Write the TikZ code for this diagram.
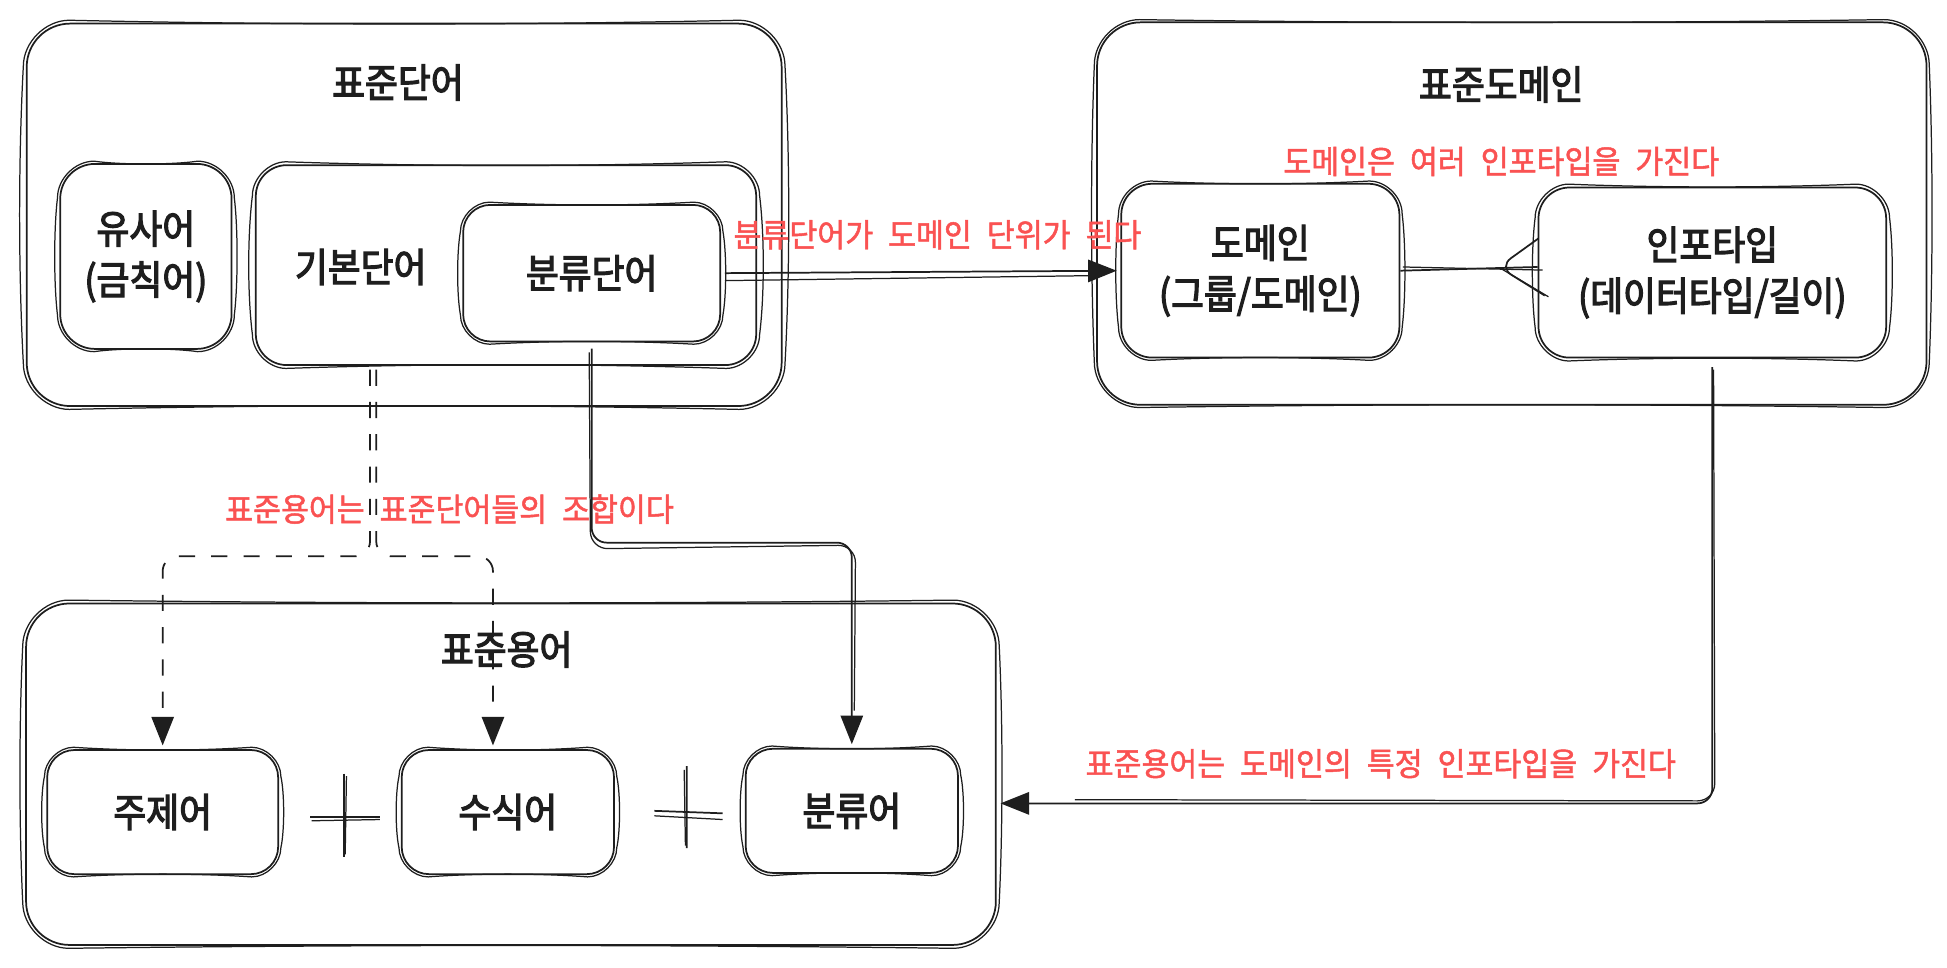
\documentclass[tikz,border=0pt]{standalone}
\usepackage{fontspec}
\setmainfont{Noto Sans CJK KR}
\newfontfamily\inkfont[FakeBold=3,FakeStretch=0.9]{Noto Sans CJK KR}
\newfontfamily\redfont[WordSpace=2.2,FakeBold=1.5,FakeStretch=0.94]{Noto Sans CJK KR}
\usetikzlibrary{arrows.meta,calc}
\definecolor{ink}{HTML}{1E1E1E}
\definecolor{notecol}{HTML}{FA5252}
\newcommand\bigtxt{\inkfont\fontsize{32}{41}\selectfont}
\newcommand\notetxt{\redfont\fontsize{26}{30}\selectfont}
\tikzset{
  sbox/.style={draw=ink, line width=1.4pt, rounded corners=#1, inner sep=0pt,
               font=\bigtxt, text=ink, align=center},
  sbox/.default=22pt,
  skline/.style={draw=ink, line width=1pt},
  titletxt/.style={text=ink, font=\bigtxt, inner sep=0pt},
  notetext/.style={text=notecol, font=\notetxt, inner sep=0pt},
  conn/.style={draw=ink, line width=1.4pt, rounded corners=12pt},
  headarrow/.style={-{Triangle[length=23pt,width=18pt]}},
  dashconn/.style={conn, dash pattern=on 13pt off 13pt},
}
% second, slightly offset and bowed outline of a box (hand-drawn look)
% #1 node, #2 corner radius, #3 outward offset, #4 bow of the edges
\newcommand\skbox[4]{%
 \draw[skline] let \p1=(#1.north west), \p2=(#1.south east) in
  ({\x1+#2},{\y1+#3})
  .. controls ({\x1+0.35*(\x2-\x1)},{\y1+#3-#4}) and ({\x1+0.65*(\x2-\x1)},{\y1+#3-#4}) .. ({\x2-#2},{\y1+#3})
  .. controls ({\x2-0.45*#2},{\y1+#3}) and ({\x2+#3},{\y1-0.45*#2}) .. ({\x2+#3},{\y1-#2})
  .. controls ({\x2+#3+#4},{\y1-0.35*(\y1-\y2)}) and ({\x2+#3+#4},{\y1-0.65*(\y1-\y2)}) .. ({\x2+#3},{\y2+#2})
  .. controls ({\x2+#3},{\y2+0.45*#2}) and ({\x2-0.45*#2},{\y2-#3}) .. ({\x2-#2},{\y2-#3})
  .. controls ({\x1+0.65*(\x2-\x1)},{\y2-#3+#4}) and ({\x1+0.35*(\x2-\x1)},{\y2-#3+#4}) .. ({\x1+#2},{\y2-#3})
  .. controls ({\x1+0.45*#2},{\y2-#3}) and ({\x1-#3},{\y2+0.45*#2}) .. ({\x1-#3},{\y2+#2})
  .. controls ({\x1-#3-#4},{\y2+0.35*(\y1-\y2)}) and ({\x1-#3-#4},{\y2+0.65*(\y1-\y2)}) .. ({\x1-#3},{\y1-#2})
  .. controls ({\x1-#3},{\y1-0.45*#2}) and ({\x1+0.45*#2},{\y1+#3}) .. ({\x1+#2},{\y1+#3});}
\begin{document}
\begin{tikzpicture}[x=1pt, y=-1pt]
\fill[white] (0,0) rectangle (1568,779);
\useasboundingbox (0,0) rectangle (1568,779);

% ---------- 표준단어 group ----------
\node[sbox=35pt, minimum width=608pt, minimum height=308pt] (stdword) at (325.5,173) {};
\skbox{stdword}{35}{2}{4}
\node[titletxt] (stdwordT) at (320.5,66.5) {표준단어};
\node[sbox=28pt, minimum width=138pt, minimum height=149pt] (similar) at (117.5,206.5) {유사어\\(금칙어)};
\skbox{similar}{28}{1.5}{3}
\node[sbox=25pt, minimum width=403pt, minimum height=161pt] (basic) at (407.5,213.5) {};
\skbox{basic}{25}{2}{4}
\node[titletxt] (basicT) at (290.5,215) {기본단어};
\node[sbox=22pt, minimum width=207pt, minimum height=110pt] (cls) at (476.5,220) {분류단어};
\skbox{cls}{22}{1.5}{3}

% ---------- 표준도메인 group ----------
\node[sbox=35pt, minimum width=668pt, minimum height=308pt] (stddom) at (1217.5,172) {};
\skbox{stddom}{35}{1.5}{3}
\node[titletxt] (stddomT) at (1209,68) {표준도메인};
\node[sbox=25pt, minimum width=224pt, minimum height=140pt] (dom) at (1015,218) {도메인\\(그룹/도메인)};
\skbox{dom}{25}{1.5}{3}
\node[sbox=25pt, minimum width=280pt, minimum height=137pt] (info) at (1379,219.5) {인포타입\\(데이터타입/길이)};
\skbox{info}{25}{2}{3}
\node[notetext] (noteA) at (1209,130) {도메인은 여러 인포타입을 가진다};

% ---------- 표준용어 group ----------
\node[sbox=35pt, minimum width=781pt, minimum height=275pt] (term) at (411.5,623.5) {};
\skbox{term}{35}{2}{3}
\node[titletxt] (termT) at (408,523) {표준용어};
\node[sbox=22pt, minimum width=186pt, minimum height=100pt] (subj) at (131,654) {주제어};
\skbox{subj}{22}{1.5}{3}
\node[sbox=22pt, minimum width=171pt, minimum height=100pt] (mod) at (409,654) {수식어};
\skbox{mod}{22}{1.5}{3}
\node[sbox=22pt, minimum width=171pt, minimum height=100pt] (clsterm) at (686,653) {분류어};
\skbox{clsterm}{22}{1.5}{3}

% plus signs
\draw[conn] (277,623) -- (277,690) (250,658) -- (306,658);
\draw[skline] (279,625) -- (278,688) (251,661) -- (306,660);
\draw[conn] (553,617) -- (553,683) (527,653) -- (582,655);
\draw[skline] (551,620) -- (552,681) (527,657) -- (582,660);

% ---------- connectors ----------
% 분류단어 -> 도메인
\draw[conn, headarrow, shorten <=3pt, shorten >=3pt] (cls.east) -- (dom.west);
\draw[skline] ($(cls.east)+(3,6)$) -- ($(dom.west)+(-25,4)$);
\node[notetext] (noteB) at (755,189) {분류단어가 도메인 단위가 된다};

% 도메인 -- 인포타입 (crow's foot)
\coordinate (cf) at (1207,215);
\coordinate (cfa) at (1239,192);
\coordinate (cfb) at (1244,238);
\draw[conn] (dom.east) -- (info.west |- cf);
\draw[skline] ($(dom.east)+(2,-3)$) -- ($(info.west)+(4,-2)$);
\draw[conn] (cfa) -- (cf) -- (cfb);
\draw[skline] ($(cf)+(3,2)$) -- ($(cfb)+(3,1)$);

% 기본단어 -> 주제어 / 수식어 (dashed)
\coordinate (dsl) at (298,448);
\coordinate (dsr) at (303,448);
\coordinate (modin) at ($(mod.north)+(-12,0)$);
\draw[dashconn, headarrow, shorten <=3pt, shorten >=3pt]
  (dsl |- basic.south) -- (dsl) -- (subj.north |- dsl) -- (subj.north);
\draw[dashconn, headarrow, shorten <=3pt, shorten >=3pt]
  (dsr |- basic.south) -- (dsr) -- (modin |- dsr) -- (modin);
\node[notetext] (noteC) at (362,410) {표준용어는 표준단어들의 조합이다};

% 분류단어 -> 분류어
\coordinate (cbend) at (0,437);
\draw[conn, headarrow, shorten <=5pt, shorten >=3pt]
  (cls.south) -- (cls.south |- cbend) -- (clsterm.north |- cbend) -- (clsterm.north);
\draw[skline, rounded corners=14pt]
  ($(cls.south)+(-2,8)$) -- ($(cls.south |- cbend)+(-1,5)$) -- ($(clsterm.north |- cbend)+(3,2)$) -- ($(clsterm.north)+(2,-30)$);

% 인포타입 -> 표준용어
\coordinate (tin) at ($(term.east)+(3,23.5)$);
\draw[conn, headarrow, shorten <=7pt]
  (info.south) -- (info.south |- tin) -- (tin);
\draw[skline, rounded corners=14pt]
  ($(info.south)+(1,9)$) -- ($(info.south |- tin)+(2,-2)$) -- ($(tin)+(60,-3)$);
\node[notetext] (noteD) at (1112,615) {표준용어는 도메인의 특정 인포타입을 가진다};
\end{tikzpicture}
\end{document}
